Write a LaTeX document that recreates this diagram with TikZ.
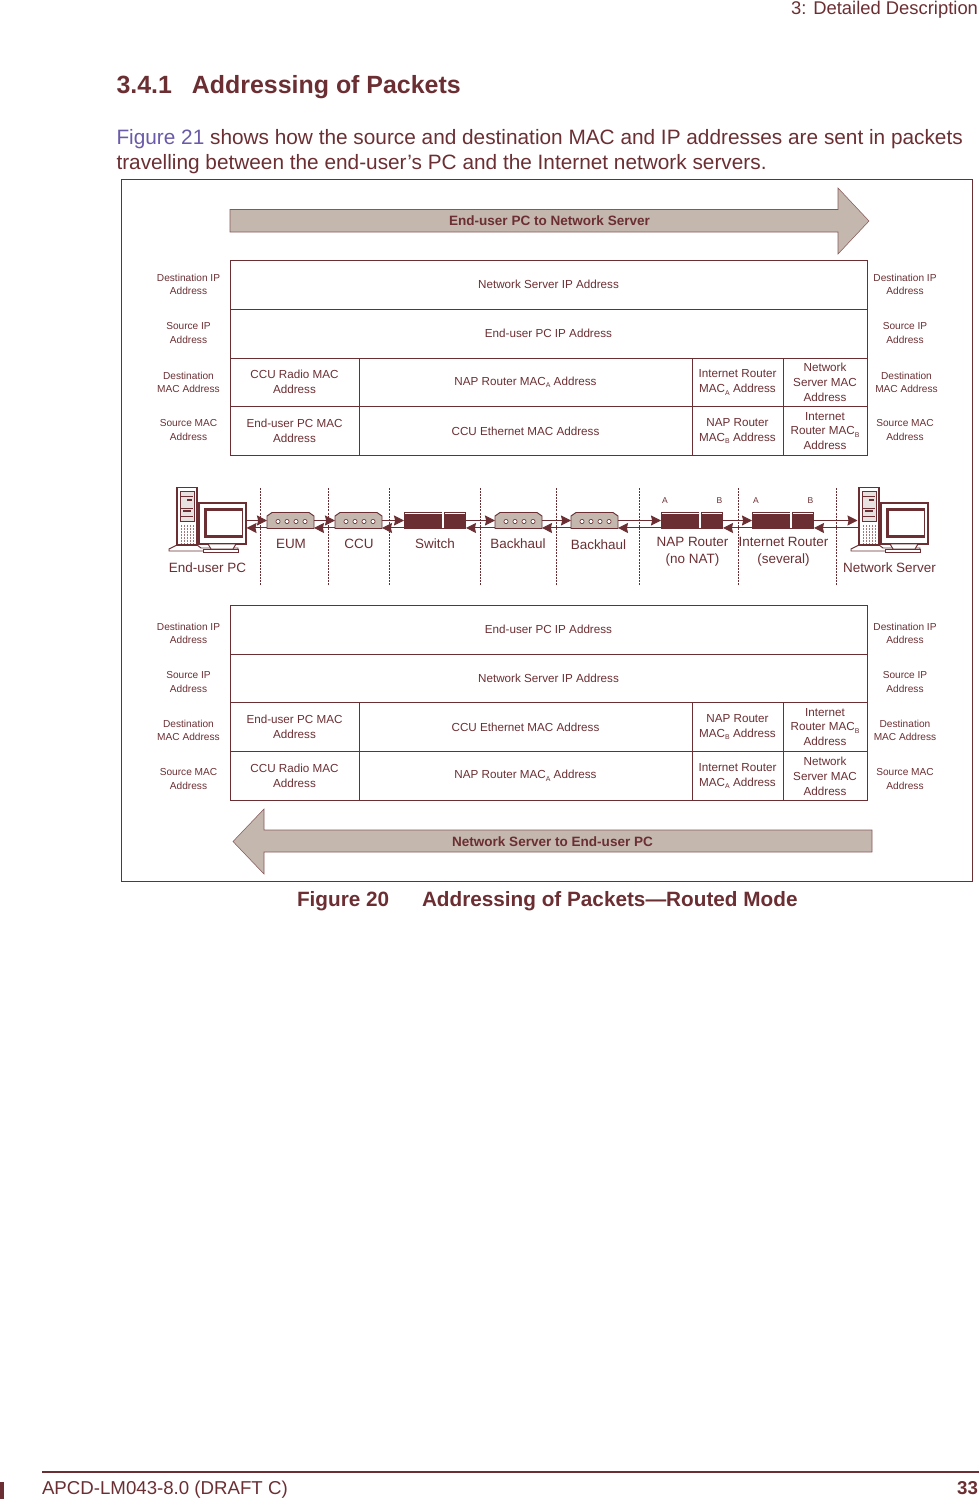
\documentclass[tikz,border=0pt]{standalone}
\usepackage{fontspec}
\setmainfont{Liberation Sans}
\usetikzlibrary{arrows.meta}
\definecolor{maroon}{HTML}{6B2F33}
\definecolor{beige}{HTML}{C4B7AE}
\definecolor{xref}{HTML}{6A5AA8}
\newcommand{\fsz}[2]{\fontsize{#1}{#2}\selectfont}
\newcommand{\sbs}[1]{\raisebox{-0.45ex}{\fsz{5.2}{6}#1}}
\tikzset{
  x=0.75pt,y=-0.75pt,
  txt/.style={text=maroon,inner sep=0pt,outer sep=0pt},
  side/.style={txt,align=center,font=\fsz{7.6}{9.8}},
  celltxt/.style={txt,draw=maroon,line width=0.75pt,align=center,font=\fsz{8.75}{11.2}},
  devlabel/.style={txt,align=center,font=\fsz{10.1}{12.8}},
  portlabel/.style={txt,font=\fsz{6.4}{8}},
  sep/.style={draw=maroon,line width=0.6pt,dash pattern=on 1.5pt off 0.8pt},
  link/.style={draw=maroon,line width=0.75pt,-{Stealth[length=7.5pt,width=7.5pt,inset=0.8pt]}},
  devbox/.style={inner sep=0pt,outer sep=0pt,minimum width=#1*0.75pt,minimum height=12.75pt},
  bigarrow/.style={draw=maroon!70!beige,line width=0.4pt,fill=beige},
  arrowtxt/.style={txt,font=\bfseries\fsz{10.15}{12}},
}
% cell: name, x0, y0, x1, y1, text
\newcommand{\cellnode}[6]{%
  \pgfmathsetmacro{\cw}{(#4-#2)*0.75}\pgfmathsetmacro{\ch}{(#5-#3)*0.75}%
  \pgfmathsetmacro{\cx}{(#2+#4)/2}\pgfmathsetmacro{\cy}{(#3+#5)/2}%
  \node[celltxt,minimum width=\cw pt,minimum height=\ch pt] (#1) at (\cx,\cy) {#6};}
% modem: name, left x
\newcommand{\modem}[2]{%
  \node[devbox=47] (#1) at (#2+23.5,520.5) {};
  \begin{scope}[shift={(#2,512)}]
    \draw[maroon,line width=0.7pt,fill=beige] (0,4) -- (5,0.5) -- (42,0.5) -- (47,4) -- (47,16.5) -- (0,16.5) -- cycle;
    \foreach \d in {11,20,29,38}{\draw[maroon,line width=0.5pt,fill=white] (\d,9.5) circle (2.1);}
  \end{scope}}
% router: name, left x
\newcommand{\router}[2]{%
  \node[devbox=62] (#1) at (#2+31,520.5) {};
  \begin{scope}[shift={(#2,512)}]
    \fill[maroon] (0,0) rectangle (62,15.5);
    \fill[white] (1,1) rectangle (37.5,1.7);
    \fill[white] (40.5,1) rectangle (61,1.7);
    \fill[white] (38.2,0) rectangle (40,15.5);
    \draw[maroon,line width=0.4pt] (0,16.7) -- (62,16.7);
  \end{scope}}
% computer: left x of tower
\newcommand{\computer}[1]{%
  \begin{scope}[shift={(#1,487)},line width=0.7pt,draw=maroon]
    \draw[maroon,fill=white] (-8,64) -- (-8,62) -- (0,58) -- (20,58) -- (24,61) -- (61,61) -- (61,64) -- cycle;
    \draw[maroon,line width=1pt,fill=white] (0,0.5) rectangle (20,58);
    \draw[maroon,line width=0.6pt,fill=beige!40] (3,4) rectangle (17,34);
    \foreach \yy in {9,21,29}{\draw[maroon,line width=0.4pt] (4,\yy) -- (16,\yy);}
    \fill[maroon] (10,12) rectangle (15,14);
    \fill[maroon] (6,23) rectangle (14,25);
    \foreach \xx in {4,7,10,13,16}{\draw[maroon!65,line width=0.5pt,dash pattern=on 1.5pt off 0.7pt] (\xx,38) -- (\xx,56);}
    \draw[maroon,line width=0.8pt,fill=white] (22,16) rectangle (69,57);
    \draw[maroon,line width=2.4pt] (65.5,22.5) -- (28.5,22.5) -- (28.5,49.5) -- (65.5,49.5);
    \draw[maroon,line width=0.7pt] (65.5,22.5) -- (65.5,49.5);
    \draw[maroon,fill=white] (31,57) -- (59,57) -- (56,62) -- (34,62) -- cycle;
    \draw[maroon,fill=white] (26,62) rectangle (61,65);
  \end{scope}}
\begin{document}
\begin{tikzpicture}
\useasboundingbox (0,0) rectangle (979,1499);
% page text
\node[txt,anchor=base east,font=\fsz{13.8}{16}] (hdr) at (978,14.5) {3: Detailed Description};
\node[txt,anchor=base west,font=\bfseries\fsz{18.7}{22}] (title) at (116.5,93) {3.4.1\hspace{15pt}Addressing of Packets};
\node[txt,anchor=base west,font=\fsz{15.6}{19}] (para1) at (116.5,144) {\textcolor{xref}{Figure 21} shows how the source and destination MAC and IP addresses are sent in packets};
\node[txt,anchor=base west,font=\fsz{15.6}{19}] (para2) at (116.5,169) {travelling between the end-user’s PC and the Internet network servers.};
% frame
\node[draw=maroon,line width=0.75pt,inner sep=0pt,minimum width=638.25pt,minimum height=526.5pt] (frame) at (546.5,530) {};
% big arrows
\draw[bigarrow] (230,209.5) -- (838,209.5) -- (838,188) -- (869,221) -- (838,254) -- (838,232) -- (230,232) -- cycle;
\node[arrowtxt] (toplabel) at (549.5,220.5) {End-user PC to Network Server};
\draw[bigarrow] (872,830) -- (264,830) -- (264,809) -- (233,841.5) -- (264,874) -- (264,852) -- (872,852) -- cycle;
\node[arrowtxt] (botlabel) at (552.5,841.5) {Network Server to End-user PC};
% top table
\cellnode{ta}{230}{260}{867}{309}{Network Server IP Address}
\cellnode{tb}{230}{309}{867}{358}{End-user PC IP Address}
\cellnode{tc1}{230}{358}{359}{406.5}{CCU Radio MAC\\Address}
\cellnode{tc2}{359}{358}{692}{406.5}{NAP Router MAC\sbs{A} Address}
\cellnode{tc3}{692}{358}{783}{406.5}{Internet Router\\MAC\sbs{A} Address}
\cellnode{tc4}{783}{358}{867}{406.5}{Network\\Server MAC\\Address}
\cellnode{td1}{230}{406.5}{359}{455.5}{End-user PC MAC\\Address}
\cellnode{td2}{359}{406.5}{692}{455.5}{CCU Ethernet MAC Address}
\cellnode{td3}{692}{406.5}{783}{455.5}{NAP Router\\MAC\sbs{B} Address}
\cellnode{td4}{783}{406.5}{867}{455.5}{Internet\\Router MAC\sbs{B}\\Address}
% bottom table
\cellnode{ba}{230}{605}{867}{654}{End-user PC IP Address}
\cellnode{bb}{230}{654}{867}{702.5}{Network Server IP Address}
\cellnode{bc1}{230}{702.5}{359}{751.5}{End-user PC MAC\\Address}
\cellnode{bc2}{359}{702.5}{692}{751.5}{CCU Ethernet MAC Address}
\cellnode{bc3}{692}{702.5}{783}{751.5}{NAP Router\\MAC\sbs{B} Address}
\cellnode{bc4}{783}{702.5}{867}{751.5}{Internet\\Router MAC\sbs{B}\\Address}
\cellnode{bd1}{230}{751.5}{359}{800.5}{CCU Radio MAC\\Address}
\cellnode{bd2}{359}{751.5}{692}{800.5}{NAP Router MAC\sbs{A} Address}
\cellnode{bd3}{692}{751.5}{783}{800.5}{Internet Router\\MAC\sbs{A} Address}
\cellnode{bd4}{783}{751.5}{867}{800.5}{Network\\Server MAC\\Address}
% side labels
\node[side] (tl1) at (188.5,284) {Destination IP\\Address};
\node[side] (tl2) at (188.5,333) {Source IP\\Address};
\node[side] (tl3) at (188.5,382) {Destination\\MAC Address};
\node[side] (tl4) at (188.5,430) {Source MAC\\Address};
\node[side] (tr1) at (905,284) {Destination IP\\Address};
\node[side] (tr2) at (905,333) {Source IP\\Address};
\node[side] (tr3) at (906.5,382) {Destination\\MAC Address};
\node[side] (tr4) at (905,430) {Source MAC\\Address};
\node[side] (bl1) at (188.5,633) {Destination IP\\Address};
\node[side] (bl2) at (188.5,682) {Source IP\\Address};
\node[side] (bl3) at (188.5,730) {Destination\\MAC Address};
\node[side] (bl4) at (188.5,779) {Source MAC\\Address};
\node[side] (br1) at (905,633) {Destination IP\\Address};
\node[side] (br2) at (905,682) {Source IP\\Address};
\node[side] (br3) at (905,730) {Destination\\MAC Address};
\node[side] (br4) at (905,779) {Source MAC\\Address};
% separators
\foreach \sx/\sn in {260/a,328/b,389/c,480/d,556/e,639/f,738/g,836/h}{
  \coordinate (st\sn) at (\sx,488); \coordinate (sb\sn) at (\sx,585);
  \draw[sep] (st\sn) -- (sb\sn);}
% devices
\computer{177}
\node[devbox=1] (pc) at (246,520.5) {};
\modem{eum}{267}
\modem{ccu}{335}
\router{sw}{404}
\modem{bha}{495}
\modem{bhb}{571}
\router{nap}{661}
\router{inet}{752}
\computer{859}
\node[devbox=1] (srv) at (858,520.5) {};
% links
\foreach \a/\b in {pc/eum,eum/ccu,ccu/sw,sw/bha,bha/bhb,bhb/nap,nap/inet,inet/srv}{
  \draw[link] (\a.east) -- (\b.west);
  \draw[link] ([yshift=-5.6pt]\b.west) -- ([yshift=-5.6pt]\a.east);}
% device labels
\node[devlabel] (lpc) at (207.5,567.5) {End-user PC};
\node[devlabel] (leum) at (291,543.5) {EUM};
\node[devlabel] (lccu) at (359,543.5) {CCU};
\node[devlabel] (lsw) at (435,543.5) {Switch};
\node[devlabel] (lbha) at (518,543.5) {Backhaul};
\node[devlabel] (lbhb) at (598.5,544.5) {Backhaul};
\node[devlabel] (lnap) at (692.5,552) {NAP Router\\(no NAT)};
\node[devlabel] (linet) at (783.5,552) {Internet Router\\(several)};
\node[devlabel] (lsrv) at (889.5,567.5) {Network Server};
\node[portlabel] (pa1) at (665,501) {A};
\node[portlabel] (pb1) at (719.5,501) {B};
\node[portlabel] (pa2) at (756,501) {A};
\node[portlabel] (pb2) at (810.5,501) {B};
% caption
\node[txt,anchor=base west,font=\bfseries\fsz{15.55}{19}] (figno) at (297,906) {Figure 20};
\node[txt,anchor=base west,font=\bfseries\fsz{15.55}{19}] (figtitle) at (422,906) {Addressing of Packets—Routed Mode};
% footer
\coordinate (fa) at (42,1471.5); \coordinate (fb) at (979,1471.5);
\draw[maroon,line width=1.5pt] (fa) -- (fb);
\fill[maroon] (0,1482) rectangle (4,1499);
\node[txt,anchor=base west,font=\fsz{14}{17}] (foot) at (42,1494) {APCD-LM043-8.0 (DRAFT C)};
\node[txt,anchor=base east,font=\bfseries\fsz{14}{17}] (page) at (978,1494) {33};
\end{tikzpicture}
\end{document}
